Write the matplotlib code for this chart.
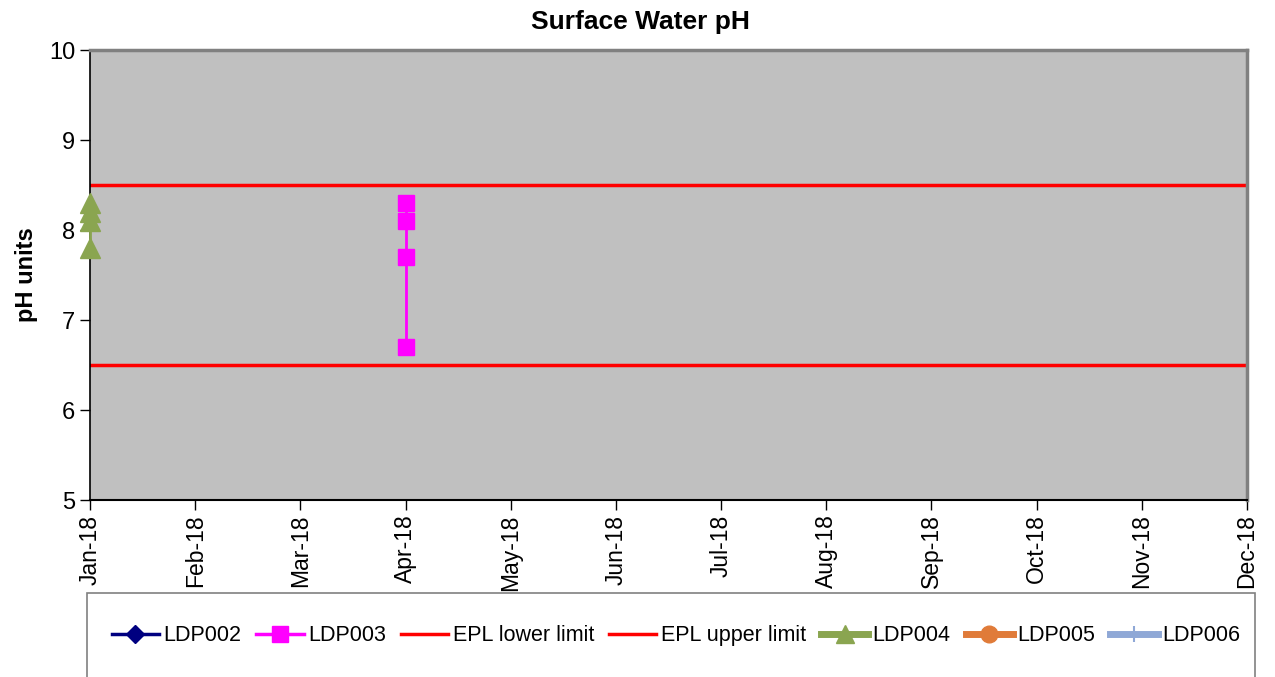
import matplotlib
matplotlib.use('Agg')
import matplotlib.pyplot as plt
from matplotlib.patches import Rectangle
from matplotlib.lines import Line2D

plt.rcParams['font.family'] = ['Liberation Sans']

# Month axis labels (evenly spaced, one per month)
months = ['Jan-18', 'Feb-18', 'Mar-18', 'Apr-18', 'May-18', 'Jun-18',
          'Jul-18', 'Aug-18', 'Sep-18', 'Oct-18', 'Nov-18', 'Dec-18']

# Sample readings (x = month index)
ldp003_x = [3, 3, 3, 3]
ldp003_ph = [8.3, 8.1, 7.7, 6.7]
ldp004_x = [0, 0, 0, 0]
ldp004_ph = [8.3, 8.2, 8.1, 7.8]

# EPL limits
epl_lower = 6.5
epl_upper = 8.5

fig = plt.figure(figsize=(12.75, 6.77), dpi=100)
ax = fig.add_axes([0.0706, 0.2614, 0.9074, 0.6646])
ax.set_facecolor('#c0c0c0')

ax.axhline(epl_lower, color='#ff0000', lw=2.5, zorder=2)
ax.axhline(epl_upper, color='#ff0000', lw=2.5, zorder=2)

ax.plot(ldp003_x, ldp003_ph, color='#ff00ff', lw=2, marker='s', ms=11,
        markeredgecolor='#ff00ff', zorder=3)
ax.plot(ldp004_x, ldp004_ph, color='#8aa550', lw=2, marker='^', ms=14,
        markeredgecolor='#8aa550', zorder=3, clip_on=False)

ax.set_xlim(0, 11)
ax.set_ylim(5, 10)
ax.set_xticks(range(len(months)))
ax.set_xticklabels(months, rotation=90, fontsize=16.5)
ax.set_yticks([5, 6, 7, 8, 9, 10])
ax.tick_params(axis='y', labelsize=17, length=7, width=1, direction='out')
ax.tick_params(axis='x', length=7, width=1, direction='out')
ax.set_ylabel('pH units', fontsize=17, fontweight='bold', labelpad=8)

# title is centred on the whole figure
fig.text(0.502, 0.967, 'Surface Water pH', fontsize=19, fontweight='bold',
         ha='center', va='center')

ax.spines['left'].set_color('black')
ax.spines['bottom'].set_color('black')
ax.spines['left'].set_linewidth(1.2)
ax.spines['bottom'].set_linewidth(1.5)
ax.spines['top'].set_color('#808080')
ax.spines['right'].set_color('#808080')
ax.spines['top'].set_linewidth(2.5)
ax.spines['right'].set_linewidth(2.5)

handles = [
    Line2D([], [], color='#000080', lw=2.5, marker='D', ms=9),
    Line2D([], [], color='#ff00ff', lw=2.5, marker='s', ms=11),
    Line2D([], [], color='#ff0000', lw=2.5),
    Line2D([], [], color='#ff0000', lw=2.5),
    Line2D([], [], color='#8aa550', lw=5, marker='^', ms=13),
    Line2D([], [], color='#e07b39', lw=5, marker='o', ms=12),
    Line2D([], [], color='#8fa8d6', lw=5, marker='|', ms=12, mew=1.5),
]
labels = ['LDP002', 'LDP003', 'EPL lower limit', 'EPL upper limit',
          'LDP004', 'LDP005', 'LDP006']
fig.legend(handles, labels, loc='center', bbox_to_anchor=(0.53, 0.0606),
           bbox_transform=fig.transFigure, ncol=7, frameon=False,
           fontsize=15.5, handlelength=2.2, handletextpad=0.2,
           columnspacing=0.7)

fig.patches.append(Rectangle((0.068, -0.01), 0.916, 0.134,
                             transform=fig.transFigure, fill=False,
                             edgecolor='#808080', lw=1.2))

fig.savefig('out.png', dpi=100)
